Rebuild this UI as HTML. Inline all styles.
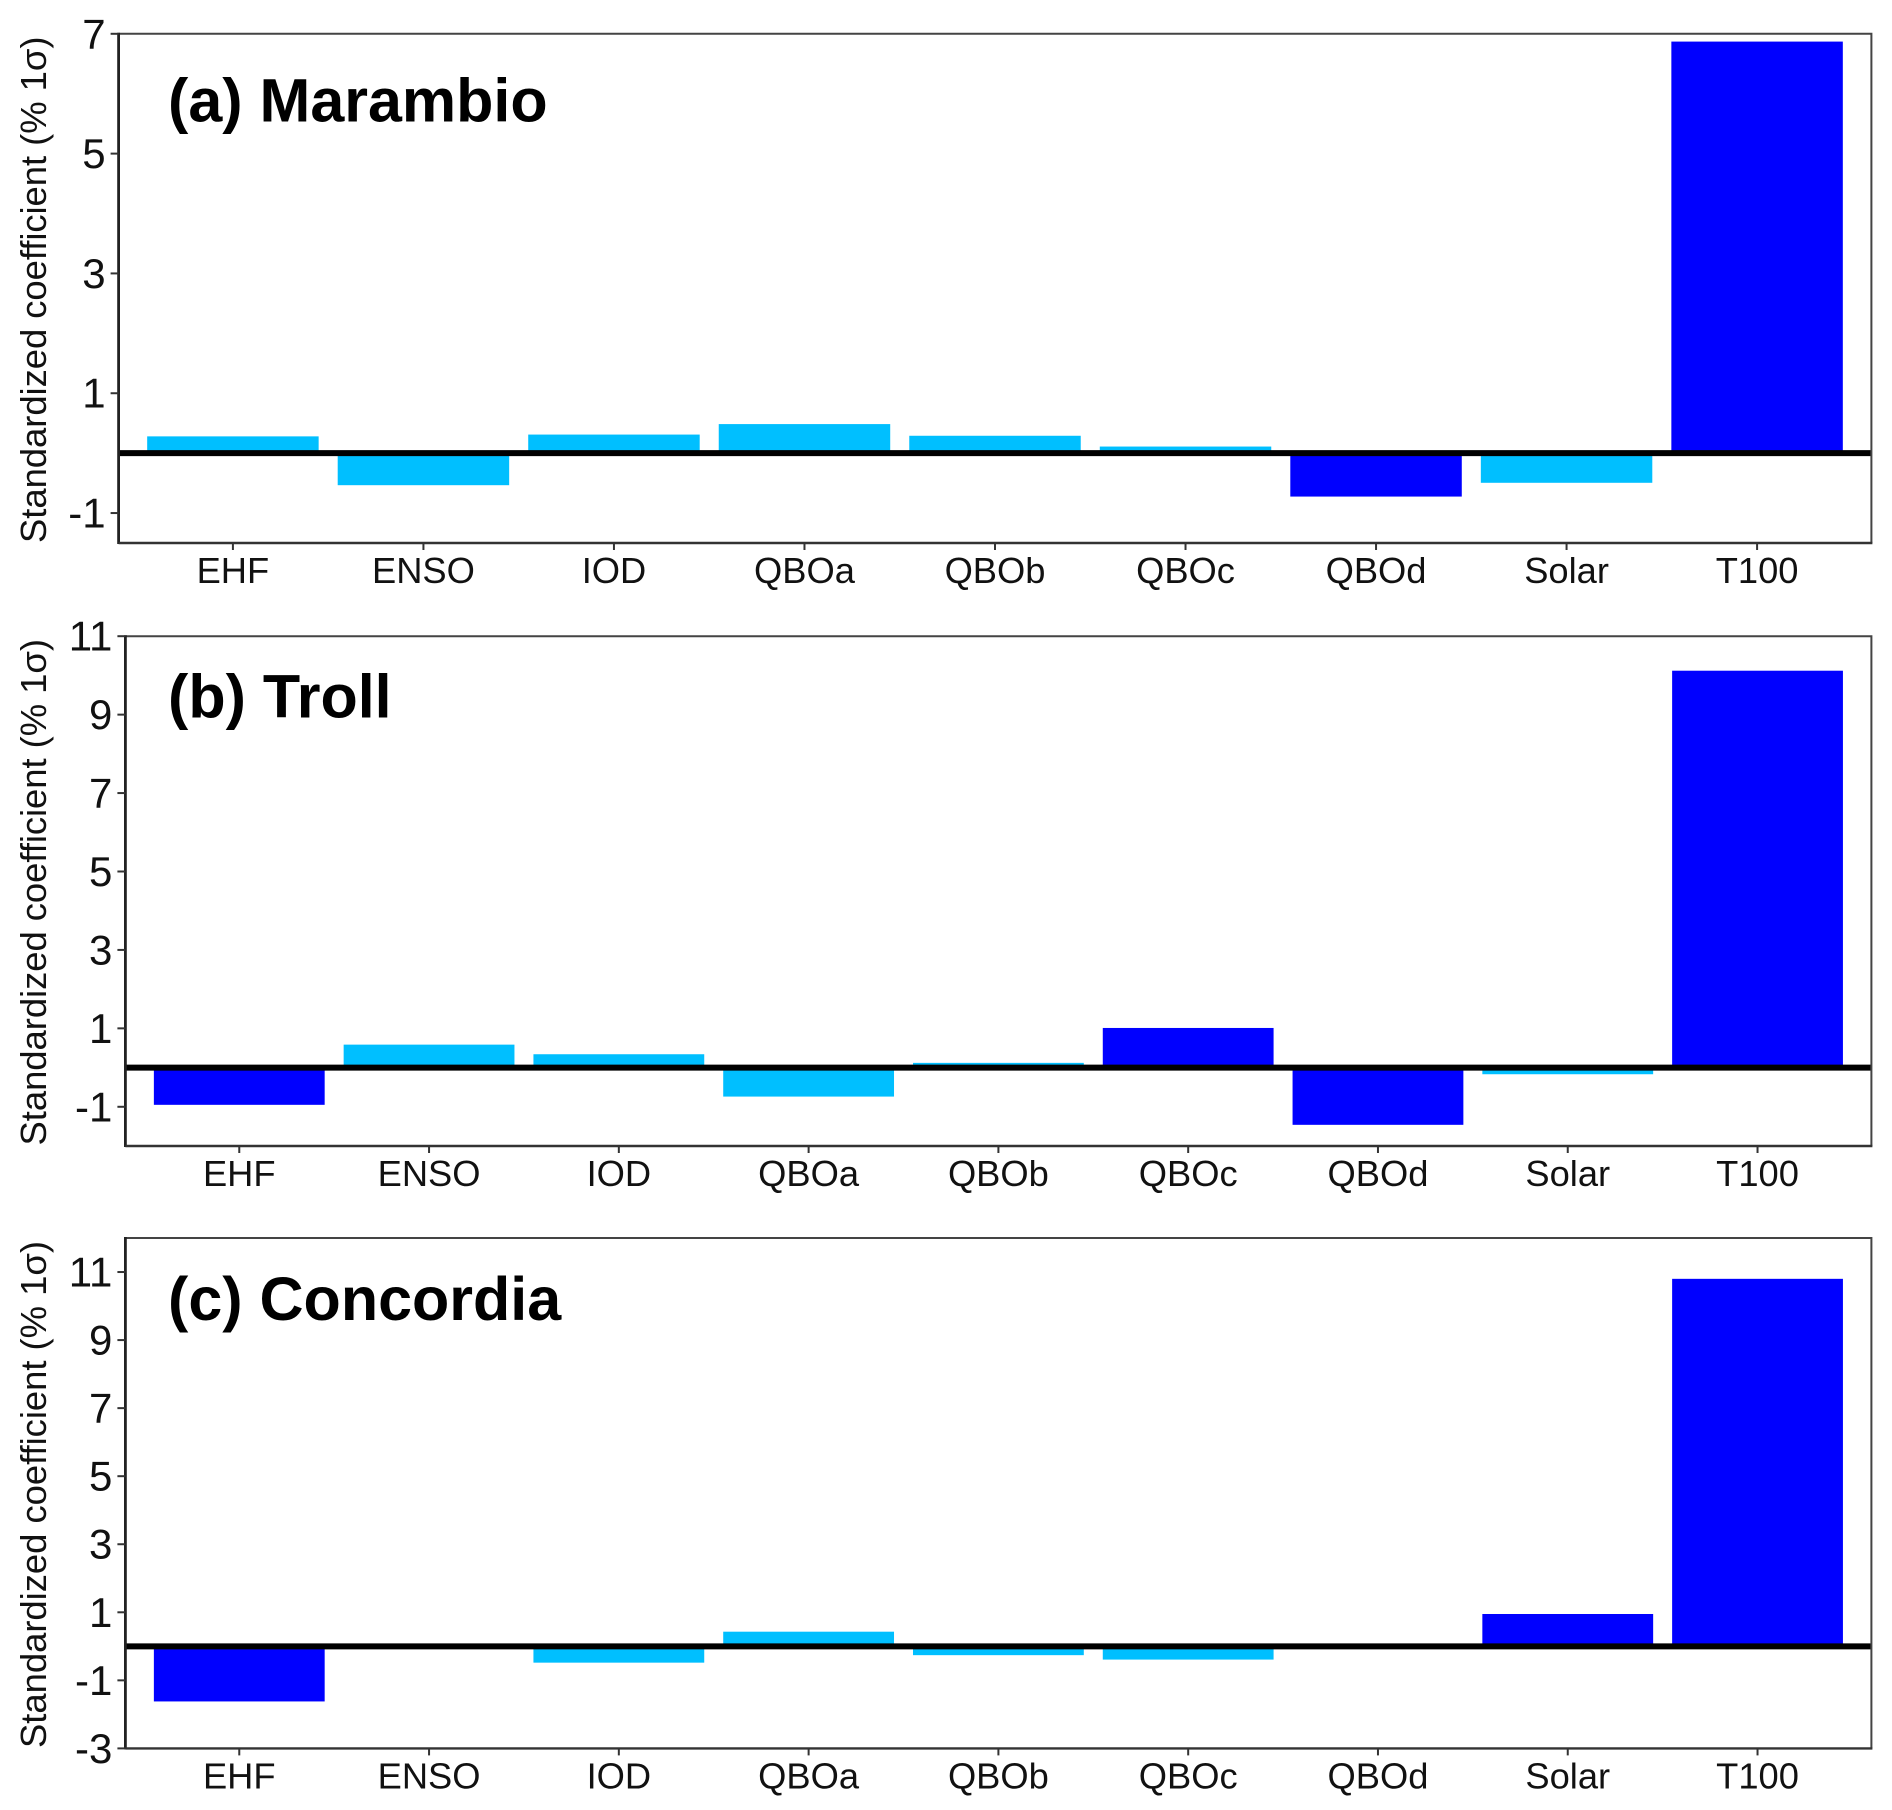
<!DOCTYPE html>
<html lang="en">
<head>
<meta charset="utf-8">
<title>Standardized coefficients by station</title>
<style>
html,body{margin:0;padding:0;background:#fff;}
svg{display:block;font-family:"Liberation Sans",Arial,sans-serif;}
</style>
</head>
<body>
<svg id="chart" xmlns="http://www.w3.org/2000/svg" width="1892" height="1810" viewBox="0 0 1892 1810"></svg>
<script>
const categories = ["EHF", "ENSO", "IOD", "QBOa", "QBOb", "QBOc", "QBOd", "Solar", "T100"];

const marambioValues = [0.28, -0.535, 0.31, 0.485, 0.29, 0.11, -0.725, -0.495, 6.87];
const marambioSignificant = [0, 0, 0, 0, 0, 0, 1, 0, 1];
const marambioTicks = [-1, 1, 3, 5, 7];
const marambioDomain = [-1.5, 7];

const trollValues = [-0.95, 0.585, 0.34, -0.74, 0.12, 1.01, -1.46, -0.17, 10.12];
const trollSignificant = [1, 0, 0, 0, 0, 1, 1, 0, 1];
const trollTicks = [-1, 1, 3, 5, 7, 9, 11];
const trollDomain = [-2, 11];

const concordiaValues = [-1.62, 0, -0.48, 0.43, -0.26, -0.39, 0, 0.95, 10.8];
const concordiaSignificant = [1, 0, 0, 0, 0, 0, 0, 1, 1];
const concordiaTicks = [-3, -1, 1, 3, 5, 7, 9, 11];
const concordiaDomain = [-3, 12];

const yAxisTitle = "Standardized coefficient (% 1\u03C3)";

const svg = document.getElementById("chart");
const NS = "http://www.w3.org/2000/svg";

function make(tag, attrs, parent) {
  const el = document.createElementNS(NS, tag);
  for (const k in attrs) el.setAttribute(k, attrs[k]);
  parent.appendChild(el);
  return el;
}

function drawPanel(cfg) {
  const g = make("g", {}, svg);
  
  

  const xScale = function (i) {
    return cfg.left + (i + 1 - 0.4) / 9.2 * (cfg.right - cfg.left);
  };
  const yScale = function (v) {
    return cfg.top + (cfg.domain[1] - v) / (cfg.domain[1] - cfg.domain[0]) * (cfg.bottom - cfg.top);
  };
  const band = (cfg.right - cfg.left) / 9.2;
  const barWidth = band * 0.9;

  cfg.values.forEach(function (v, i) {
    const y0 = yScale(0);
    const y1 = yScale(v);
    const bar = make("rect", {
      x: xScale(i) - barWidth / 2,
      y: Math.min(y0, y1),
      width: barWidth,
      height: Math.abs(y1 - y0),
      fill: cfg.significant[i] ? "#0000FF" : "#00BFFF"
    }, g);
    
    
  });

  const zero = make("line", {
    x1: cfg.left, x2: cfg.right, y1: yScale(0), y2: yScale(0),
    stroke: "#000", "stroke-width": 6
  }, g);
  
  

  const frame = make("path", {
    d: "M" + cfg.left + " " + cfg.top + "H" + cfg.right + "V" + cfg.bottom,
    fill: "none", stroke: "#444", "stroke-width": 2
  }, g);
  
  

  const yAxis = make("line", {
    x1: cfg.left, x2: cfg.left, y1: cfg.top - 1, y2: cfg.bottom + 1,
    stroke: "#222", "stroke-width": 2.8
  }, g);
  
  

  const xAxis = make("line", {
    x1: cfg.left, x2: cfg.right + 1, y1: cfg.bottom, y2: cfg.bottom,
    stroke: "#333", "stroke-width": 2.4
  }, g);
  
  

  cfg.ticks.forEach(function (t) {
    const tick = make("line", {
      x1: cfg.left - 8, x2: cfg.left, y1: yScale(t), y2: yScale(t),
      stroke: "#333", "stroke-width": 2
    }, g);
    
    

    const label = make("text", {
      x: cfg.left - 13, y: yScale(t) + 14.5,
      "text-anchor": "end", "font-size": 42, fill: "#111"
    }, g);
    label.textContent = String(t);
    
    
  });

  categories.forEach(function (c, i) {
    const tick = make("line", {
      x1: xScale(i), x2: xScale(i), y1: cfg.bottom, y2: cfg.bottom + 7,
      stroke: "#333", "stroke-width": 2
    }, g);
    
    

    const label = make("text", {
      x: xScale(i), y: cfg.bottom + 40,
      "text-anchor": "middle", "font-size": 36.3, fill: "#111"
    }, g);
    label.textContent = c;
    
    
  });

  const yMid = (cfg.titleTop + cfg.titleBottom) / 2;
  const yTitle = make("text", {
    transform: "translate(46," + yMid + ") rotate(-90)",
    "text-anchor": "middle", "font-size": 36.5, fill: "#111",
    textLength: cfg.titleBottom - cfg.titleTop, lengthAdjust: "spacing"
  }, g);
  yTitle.textContent = yAxisTitle;
  
  

  const heading = make("text", {
    x: 168, y: cfg.headingY,
    "font-size": 61, "font-weight": "bold", fill: "#000"
  }, g);
  heading.textContent = cfg.heading;
  
  
}

drawPanel({
  key: "marambio", heading: "(a) Marambio",
  values: marambioValues, significant: marambioSignificant,
  ticks: marambioTicks, domain: marambioDomain,
  left: 118.6, right: 1871.4, top: 33.8, bottom: 543,
  titleTop: 36.5, titleBottom: 543, headingY: 121.5
});
drawPanel({
  key: "troll", heading: "(b) Troll",
  values: trollValues, significant: trollSignificant,
  ticks: trollTicks, domain: trollDomain,
  left: 125.4, right: 1871.4, top: 636.2, bottom: 1146,
  titleTop: 639, titleBottom: 1145.5, headingY: 717.4
});
drawPanel({
  key: "concordia", heading: "(c) Concordia",
  values: concordiaValues, significant: concordiaSignificant,
  ticks: concordiaTicks, domain: concordiaDomain,
  left: 125.4, right: 1871.4, top: 1238, bottom: 1748.4,
  titleTop: 1241, titleBottom: 1748, headingY: 1319.8
});
</script>
</body>
</html>
